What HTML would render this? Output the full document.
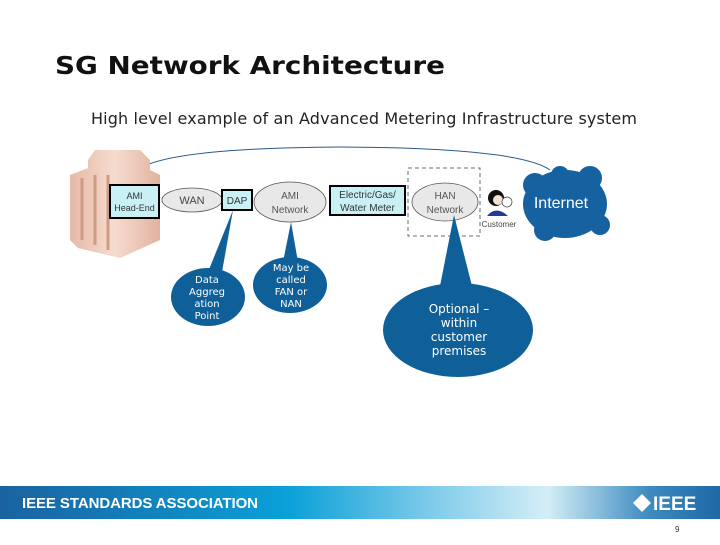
<!DOCTYPE html>
<html><head><meta charset="utf-8"><style>
body{margin:0;width:720px;height:540px;background:#fff;overflow:hidden;font-family:"Liberation Sans",sans-serif}
</style></head><body>
<svg width="720" height="540" viewBox="0 0 720 540" xmlns="http://www.w3.org/2000/svg">
<defs>
<linearGradient id="bn" x1="0" x2="1" y1="0" y2="0">
<stop offset="0" stop-color="#1a62a0"/><stop offset="0.4" stop-color="#0aa0d8"/>
<stop offset="0.6" stop-color="#7fcbea"/><stop offset="0.76" stop-color="#d4eef7"/>
<stop offset="0.9" stop-color="#3f8cc0"/><stop offset="1" stop-color="#1d68a6"/>
</linearGradient>
<linearGradient id="bd" x1="0" x2="1"><stop offset="0" stop-color="#e6b9a6"/><stop offset="0.5" stop-color="#f6dccf"/><stop offset="1" stop-color="#e2b29e"/></linearGradient>
</defs>
<text x="55" y="74" font-size="25" font-weight="bold" fill="#111" font-family="DejaVu Sans" textLength="390" lengthAdjust="spacingAndGlyphs">SG Network Architecture</text>
<text x="91" y="124" font-size="16" fill="#222" font-family="DejaVu Sans" textLength="546">High level example of an Advanced Metering Infrastructure  system</text>
<path d="M135 172 Q160 148 340 147 Q520 148 550 170" fill="none" stroke="#2a5a8a" stroke-width="1"/>
<path d="M88 160 L95 150 L140 150 L150 160 L150 170 L160 175 L160 240 L120 258 L78 248 L70 240 L70 175 L88 168 Z" fill="url(#bd)"/>
<g stroke="#cf9a86" stroke-width="3"><line x1="82" y1="178" x2="82" y2="240"/><line x1="95" y1="175" x2="95" y2="245"/><line x1="108" y1="175" x2="108" y2="250"/></g>
<rect x="110" y="185" width="49" height="33" fill="#c9f1f5" stroke="#000" stroke-width="2"/>
<text x="134.5" y="199" font-size="9" text-anchor="middle" fill="#333">AMI</text>
<text x="134.5" y="211" font-size="9" text-anchor="middle" fill="#333">Head-End</text>
<g fill="#e8e8e8" stroke="#555" stroke-width="0.8">
<ellipse cx="192" cy="200" rx="30" ry="12"/>
<ellipse cx="290" cy="202" rx="36" ry="20"/>
<ellipse cx="445" cy="202" rx="33" ry="19"/>
</g>
<text x="192" y="204" font-size="11" text-anchor="middle" fill="#444">WAN</text>
<rect x="222" y="190" width="30" height="20" fill="#c9f1f5" stroke="#000" stroke-width="2"/>
<text x="237" y="204" font-size="10" text-anchor="middle" fill="#333">DAP</text>
<text x="290" y="199" font-size="10" text-anchor="middle" fill="#555">AMI</text>
<text x="290" y="213" font-size="10" text-anchor="middle" fill="#555">Network</text>
<rect x="330" y="186" width="75" height="29" fill="#c9f1f5" stroke="#000" stroke-width="2"/>
<text x="367.5" y="198" font-size="10" text-anchor="middle" fill="#333">Electric/Gas/</text>
<text x="367.5" y="211" font-size="10" text-anchor="middle" fill="#333">Water Meter</text>
<rect x="408" y="168" width="72" height="68" fill="none" stroke="#345" stroke-width="0.8" stroke-dasharray="4,3"/>
<text x="445" y="199" font-size="10" text-anchor="middle" fill="#555">HAN</text>
<text x="445" y="213" font-size="10" text-anchor="middle" fill="#555">Network</text>
<circle cx="496" cy="198" r="8" fill="#111"/><circle cx="498" cy="200" r="5" fill="#f3e3d3"/>
<path d="M487 216 Q496 205 508 216 Z" fill="#223a99"/>
<circle cx="507" cy="202" r="5" fill="#fff" stroke="#333" stroke-width="0.7"/>
<text x="499" y="227" font-size="8" text-anchor="middle" fill="#444">Customer</text>
<g fill="#16619f">
<ellipse cx="565" cy="204" rx="42" ry="34"/>
<circle cx="535" cy="185" r="12"/><circle cx="560" cy="175" r="9"/><circle cx="590" cy="178" r="12"/>
<circle cx="600" cy="225" r="10"/><circle cx="545" cy="230" r="11"/>
</g>
<text x="561" y="208" font-size="16" fill="#fff" text-anchor="middle">Internet</text>
<g fill="#0f5f99">
<path d="M208 272 L222 272 L233 210 Z"/>
<ellipse cx="208" cy="297" rx="37" ry="29"/>
<path d="M283 262 L298 262 L291 222 Z"/>
<ellipse cx="290" cy="285" rx="37" ry="28"/>
<path d="M440 286 L472 286 L454 215 Z"/>
<ellipse cx="458" cy="330" rx="75" ry="47"/>
</g>
<g fill="#fff" font-size="10" text-anchor="middle" font-family="DejaVu Sans">
<text x="207" y="283">Data</text><text x="207" y="295">Aggreg</text><text x="207" y="307">ation</text><text x="207" y="319">Point</text>
<text x="291" y="271">May be</text><text x="291" y="283">called</text><text x="291" y="295">FAN or</text><text x="291" y="307">NAN</text>
</g>
<g fill="#fff" font-size="12" text-anchor="middle" font-family="DejaVu Sans">
<text x="459" y="313">Optional –</text><text x="459" y="327">within</text><text x="459" y="341">customer</text><text x="459" y="355">premises</text>
</g>
<rect x="0" y="486" width="720" height="33" fill="url(#bn)"/>
<text x="22" y="508" font-size="15" font-weight="bold" fill="#fff" textLength="236">IEEE STANDARDS ASSOCIATION</text>
<path d="M642 494 L651 503 L642 512 L633 503 Z" fill="#fff"/>
<text x="653" y="510" font-size="19" font-weight="bold" fill="#fff">IEEE</text>
<text x="675" y="532" font-size="8" fill="#333">9</text>
</svg>
</body></html>
